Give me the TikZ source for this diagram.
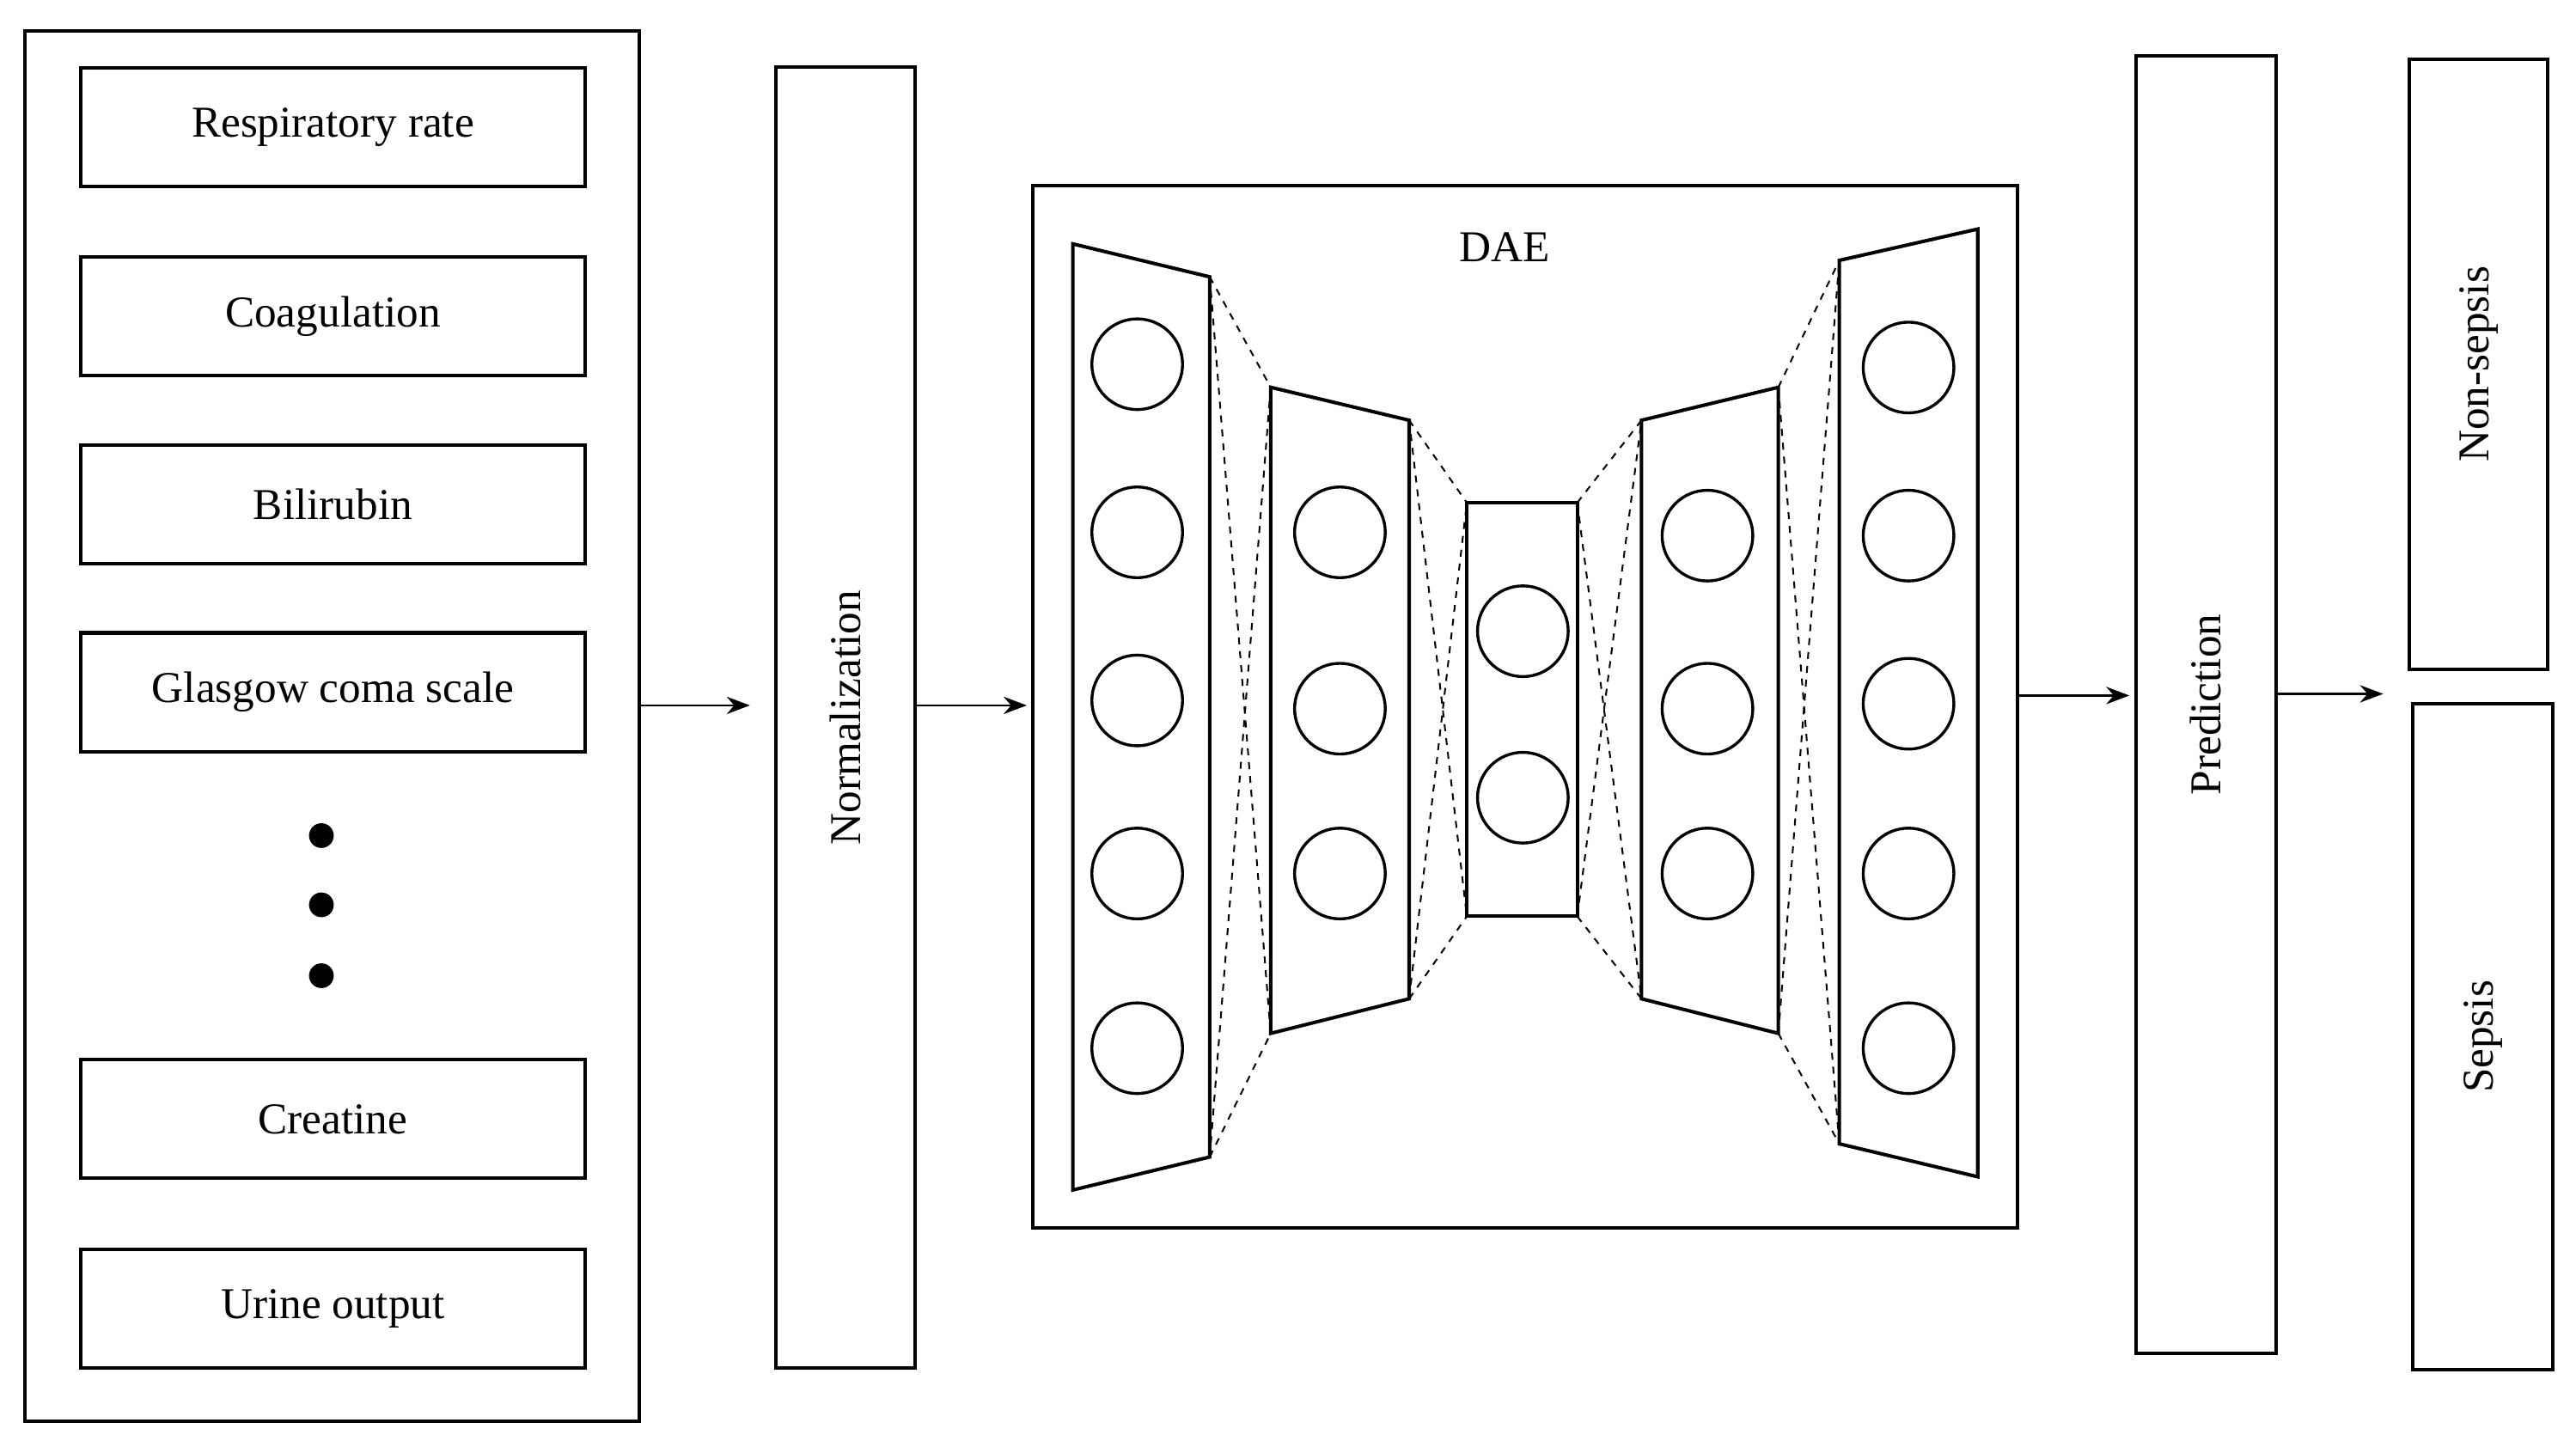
\documentclass[tikz,border=0pt]{standalone}
\usepackage{fontspec}
\setmainfont{Liberation Serif}
\usetikzlibrary{arrows.meta, positioning}
\tikzstyle{feature}=[draw, line width=0.6pt, minimum width=3.06cm, minimum height=0.72cm, inner sep=0pt]
\tikzstyle{stage}=[draw, line width=0.6pt, inner sep=0pt]
\tikzstyle{unit}=[draw, circle, line width=0.5pt, minimum size=0.55cm, inner sep=0pt]
\tikzstyle{link}=[dashed, line width=0.3pt, dash pattern=on 1.2pt off 1.2pt]
\tikzstyle{flow}=[-{Stealth[length=4pt,width=3pt]}, line width=0.4pt]

\begin{document}
\begin{tikzpicture}[x=0.01cm, y=-0.01cm, font=\fontsize{7.6}{9}\selectfont]
  \useasboundingbox (0,0) rectangle (1563,874);
  % inputs
  \node[stage, minimum width=3.73cm, minimum height=8.43cm] (in) at (201.5,440.5) {};
  \node[feature] (f1) at (202,77) {Respiratory rate};
  \node[feature] (f2) at (202,192) {Coagulation};
  \node[feature] (f3) at (202,306) {Bilirubin};
  \node[feature] (f4) at (202,420) {Glasgow coma scale};
  \node[feature] (f5) at (202,679) {Creatine};
  \node[feature] (f6) at (202,794) {Urine output};
  \foreach \y in {507,549,592} \fill (195,\y) circle (7.5);
  % normalization
  \node[stage, minimum width=0.84cm, minimum height=7.89cm] (norm) at (513,435.5) {};
  \node[rotate=90] at (norm) {Normalization};
  % DAE
  \node[stage, minimum width=5.97cm, minimum height=6.32cm] (dae) at (925.5,429) {};
  \node (daelbl) at (913,150) {DAE};
  \coordinate (a1) at (651,148); \coordinate (a2) at (734,168);
  \coordinate (a3) at (734,702); \coordinate (a4) at (651,722);
  \coordinate (b1) at (771,235); \coordinate (b2) at (855,255);
  \coordinate (b3) at (855,606); \coordinate (b4) at (771,627);
  \coordinate (c1) at (890,305); \coordinate (c2) at (957,305);
  \coordinate (c3) at (957,556); \coordinate (c4) at (890,556);
  \coordinate (d1) at (996,255); \coordinate (d2) at (1079,235);
  \coordinate (d3) at (1079,627); \coordinate (d4) at (996,606);
  \coordinate (e1) at (1116,158); \coordinate (e2) at (1200,139);
  \coordinate (e3) at (1200,714); \coordinate (e4) at (1116,694);
  \foreach \l in {a,b,c,d,e}
    \draw[line width=0.6pt] (\l1) -- (\l2) -- (\l3) -- (\l4) -- cycle;
  \foreach \p/\q in {a/b,b/c,c/d,d/e} {
    \draw[link] (\p2) -- (\q1);
    \draw[link] (\p3) -- (\q4);
    \draw[link] (\p2) -- (\q4);
    \draw[link] (\p3) -- (\q1);
  }
  \foreach \y [count=\i] in {221,323,425,530,636} \node[unit] (ua\i) at (690,\y) {};
  \foreach \y [count=\i] in {323,430,530} \node[unit] (ub\i) at (813,\y) {};
  \foreach \y [count=\i] in {383,484} \node[unit] (uc\i) at (924,\y) {};
  \foreach \y [count=\i] in {325,430,530} \node[unit] (ud\i) at (1036,\y) {};
  \foreach \y [count=\i] in {223,325,427,530,636} \node[unit] (ue\i) at (1158,\y) {};
  % prediction and outputs
  \node[stage, minimum width=0.85cm, minimum height=7.87cm] (pred) at (1338.5,427.5) {};
  \node[rotate=90] at (pred) {Prediction};
  \node[stage, minimum width=0.84cm, minimum height=3.70cm] (non) at (1504,221) {};
  \node[rotate=90] at (non) {Non-sepsis};
  \node[stage, minimum width=0.85cm, minimum height=4.04cm] (sep) at (1506.5,629) {};
  \node[rotate=90] at (sep) {Sepsis};
  % arrows
  \coordinate (t1) at (455,428);
  \coordinate (t2) at (623,428);
  \coordinate (t3) at (1292,422);
  \coordinate (t4) at (1446,421);
  \draw[flow] (in.east |- t1) -- (t1);
  \draw[flow] (norm.east |- t2) -- (t2);
  \draw[flow] (dae.east |- t3) -- (t3);
  \draw[flow] (pred.east |- t4) -- (t4);
\end{tikzpicture}
\end{document}
